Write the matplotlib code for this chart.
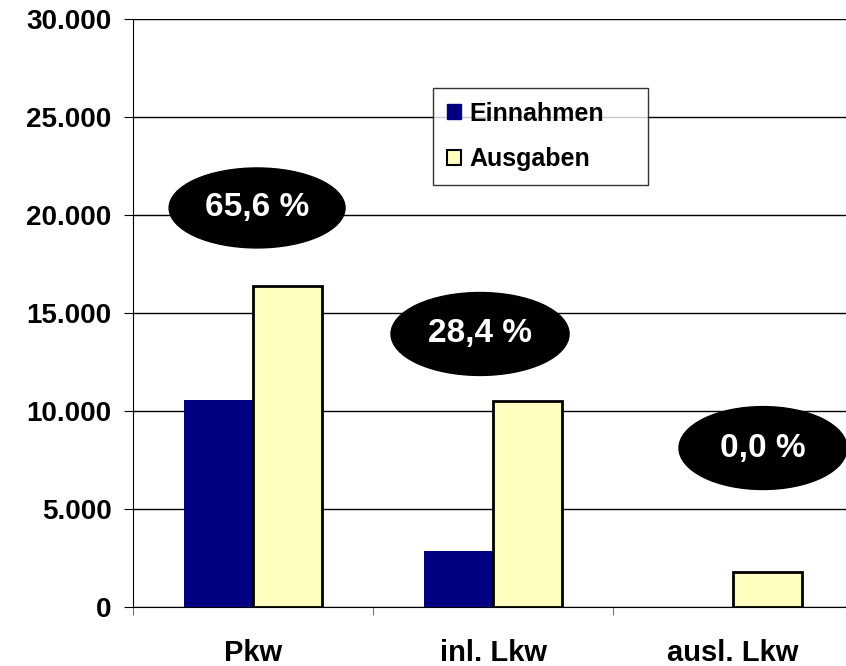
import matplotlib
matplotlib.use("Agg")
import matplotlib.pyplot as plt
from matplotlib.patches import Ellipse, Patch
from matplotlib.ticker import FuncFormatter
import numpy as np

categories = ["Pkw", "inl. Lkw", "ausl. Lkw"]
einnahmen = [10560, 2850, 0]
ausgaben = [16400, 10500, 1800]
pct_labels = ["65,6 %", "28,4 %", "0,0 %"]

plt.rcParams['font.family'] = ['Liberation Sans', 'DejaVu Sans']
plt.rcParams['font.weight'] = 'bold'

fig = plt.figure(figsize=(8.46, 6.66), dpi=100)
ax = fig.add_axes([133/846, 1-607/666, 720/846, 588/666])

x = np.arange(len(categories))
w = 0.2875
ax.bar(x - w/2, einnahmen, width=w, color="#000080", edgecolor="#000080", linewidth=0, zorder=3)
ax.bar(x + w/2, ausgaben, width=w, color="#FFFFC0", edgecolor="black", linewidth=2, zorder=3)

ax.set_xlim(-0.5, 2.5)
ax.set_ylim(0, 30000)
ax.set_yticks(np.arange(0, 30001, 5000))
ax.yaxis.set_major_formatter(FuncFormatter(lambda v, p: f"{int(v):,}".replace(",", ".")))
ax.yaxis.grid(True, color="black", linewidth=1, zorder=0)
ax.set_axisbelow(True)

ax.set_xticks(x)
ax.set_xticklabels(categories)
ax.tick_params(axis='x', which='major', length=0, pad=23, labelsize=21)
ax.set_xticks([-0.5, 0.5, 1.5], minor=True)
ax.tick_params(axis='x', which='minor', length=6, direction='out', color='#555555')
ax.tick_params(axis='y', length=6.5, direction='out', labelsize=20, pad=9)
for lab in ax.get_xticklabels() + ax.get_yticklabels():
    lab.set_fontweight('bold')

for s in ["top", "right"]:
    ax.spines[s].set_visible(False)
ax.spines["left"].set_color("black")
ax.spines["bottom"].set_color("black")

# percentage ellipses
ell_pos = [(0.017, 20360, 0.733, 4080), (0.946, 13930, 0.742, 4230), (2.125, 8110, 0.70, 4230)]
for (cx, cy, ew, eh), lab in zip(ell_pos, pct_labels):
    e = Ellipse((cx, cy), ew, eh, facecolor="black", edgecolor="black", zorder=5, clip_on=False)
    ax.add_patch(e)
    ax.text(cx, cy, lab, color="white", fontsize=24, fontweight="bold",
            ha="center", va="center", zorder=6, clip_on=False)

handles = [Patch(facecolor="#000080", edgecolor="#000080"),
           Patch(facecolor="#FFFFC0", edgecolor="black", linewidth=1.5)]
leg = fig.legend(handles, ["Einnahmen", "Ausgaben"], loc="upper left",
                 bbox_to_anchor=(433/846, 1-88/666 - 95/666, 215/846, 95/666), mode="expand",
                 frameon=True, fancybox=False,
                 prop={'weight': 'bold', 'size': 18}, handlelength=0.55, handleheight=0.55,
                 handletextpad=0.35, labelspacing=0.85, borderpad=0.55, borderaxespad=0)
leg.get_frame().set_edgecolor("black")
leg.get_frame().set_linewidth(1)
leg.set_zorder(10)

fig.savefig("out.png", dpi=100)
